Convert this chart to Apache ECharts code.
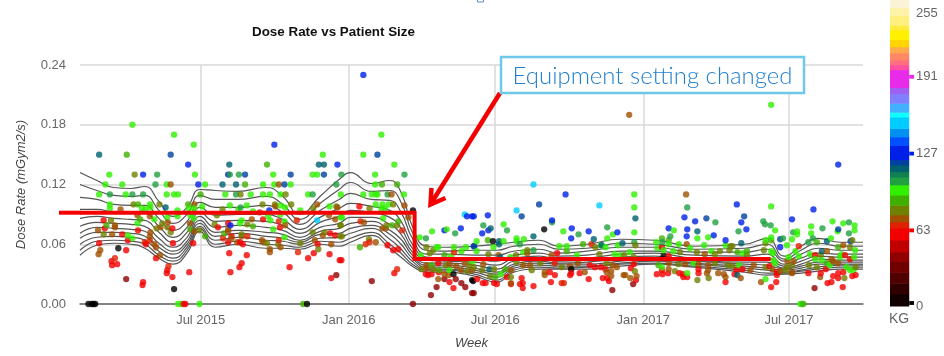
<!DOCTYPE html>
<html><head><meta charset="utf-8">
<style>html,body{margin:0;padding:0;background:#fff}#c{width:944px;height:356px}</style>
<script src="https://cdn.jsdelivr.net/npm/echarts@6/dist/echarts.min.js"></script>
</head><body><div id="c"></div>
<script>
// Scatter points, grouped by patient weight: [week index, dose rate]
const kg5 = [[1.5,0],[2.1,0],[2.4,0],[2.7,0],[6.8,.056],[16.7,.015],[40.3,0],[59.1,.094],[66.3,.03],[69.6,.024],[73.3,.063],[82.4,.075],[87.2,.035],[69.8,.023],[103.6,.048]];
const kg42 = [[8.2,.025],[45.5,.029],[51.8,.023],[59.1,0],[64.7,.025],[66.7,.025],[67.7,.021],[63.3,.017],[68.4,.017],[62.3,.009],[69.6,.011],[69.9,.011],[98.2,.02],[94.5,.014],[130.4,.016]];
const kg60 = [[4.2,.084],[4.4,.076],[7.5,.07],[10.3,.074],[16.4,.076],[8.5,.064],[11.7,.06],[16.5,.061],[20.1,.061],[3.4,.061],[8.2,.054],[13.5,.046],[5.6,.043],[5.7,.039],[6.6,.04],[15.5,.034],[15.4,.031],[19.4,.032],[16.4,.027],[11.2,.022],[11.1,.019],[18.4,0],[18.7,0],
 [26.3,.081],[24.5,.077],[35.5,.077],[44.4,.071],[45.3,.069],[26.9,.068],[26.3,.062],[28.4,.062],[28.9,.06],[42.2,.06],[41.5,.051],[26.5,.051],[44.3,.05],[29.6,.049],[40.5,.046],[46.1,.044],[28.7,.041],[28.3,.037],[37.2,.037],[26.7,.032],[44.6,.026],[32.5,.085],
 [49.6,.098],[54.6,.059],[55.6,.054],[56.5,.055],[46.4,.044],[55.8,.031],[61.4,.03],[61.8,.029],[62.4,.03],[63.7,.032],[63.6,.041],[65.6,.022],[66.3,.016],
 [84.7,.051],[90.5,.039],[91.4,.037],[92.5,.037],[83.4,.032],[87.2,.031],[88.7,.031],[84.3,.029],[75.8,.027],[78.4,.026],[87,.029],[70.5,.025],[71.5,.021],[72,.021],[73.5,.021],[74,.02],[76.5,.02],[78.1,.02],[78.6,.021],[78.6,.016],[80.5,.018],[83.6,.022],[90.3,.025],[92.8,.026],
 [103.3,.057],[104.5,.048],[98.3,.04],[93.3,.035],[97.8,.036],[103.3,.034],[109.8,.035],[102.4,.03],[103.4,.03],[104.4,.031],[106.4,.031],[107,.03],[109.8,.031],[116.2,.03],[93.6,.026],[98.7,.024],[107.1,.027],[107.8,.027],[93.9,.023],[114.6,.022],
 [130.5,.049],[135.8,.049],[136.7,.045],[122.4,.038],[116.6,.034],[117.6,.035],[123.7,.032],[129.3,.031],[131.5,.031],[132.4,.035],[134.6,.031],[135.5,.032],[123.7,.029],[133.7,.028],[134.6,.026],[137.1,.028],[137.7,.029],[123.6,.022],[122.7,.017],[132.7,.021],[133.4,.022],[135.4,.017]];
const kg67 = [[31.9,.092],[35.3,.083],[38.5,.084],[12.4,.064],[11.5,.062],[6.2,.046],[15.7,.038],[25.4,.066],[29.7,.068],[35.3,.064],[38.7,.052],[49.8,.083],[57.2,.074],[51.4,.062],[50.7,.06],[56.3,.035],[66.4,.052],[90.8,.06],[84.3,.041],[85.5,.021],[85.9,.021],[127.6,.058]];
const kg73 = [[16.1,.12],[20.3,.10],[7.2,.095],[10.2,.089],[12.4,.088],[15.6,.082],[19.5,.081],[6.2,.079],[6.2,.077],[14.3,.077],[20.3,.073],[3.2,.074],[5.7,.07],[12.5,.072],[12.4,.068],[13.2,.06],[13.5,.057],[3.6,.054],[3.3,.05],[14.2,.049],
 [35.3,.12],[34.7,.098],[42.1,.1],[45.7,.097],[30.5,.085],[44.2,.089],[45.3,.085],[36.4,.079],[26.3,.075],[26.3,.073],[43.1,.069],[26.9,.066],[28.7,.068],[32.3,.064],[41.7,.064],[27.9,.062],[32.6,.062],[44.6,.06],[35.6,.057],[33.7,.055],[33.7,.052],
 [55.3,.11],[57.6,.099],[58.3,.087],[50.4,.082],[53.7,.076],[54.3,.076],[52.5,.062],[61.6,.036],[61.5,.039],[65.6,.04],[66.8,.038],[68.3,.041],[67.7,.034],[65.5,.029],[64.7,.03],[63.6,.025],
 [74.3,.049],[79.4,.051],[83.7,.049],[71.6,.04],[78.7,.039],[79.9,.039],[87,.038],[88.4,.041],[69.6,.034],[76.5,.034],[82.5,.032],[89.6,.032],[82.5,.029],[76.5,.021],
 [97.5,.19],[107.6,.11],[107.7,.06],[110.9,.05],[94.6,.039],[95.3,.037],[104.5,.041],[107.4,.04],[109.8,.04],[111.5,.039],[104.5,.035],[111.5,.034],[93.5,.032],[94.3,.033],[94.3,.028],[111.3,.031],[113.3,.031],[114.3,.03],[114.6,.027],[96.5,.029],[96.8,.029],[98.8,.028],[97.7,.026],
 [135.5,.059],[132.6,.053],[133.4,.045],[125.6,.043],[126.7,.043],[133.7,.043],[134.6,.041],[119.6,.039],[119,.034],[122.9,.035],[124.3,.033],[126.4,.032],[117.3,.026],[126.4,.031],[131.4,.027],[120.9,.022]];
const kg80 = [[9.7,.13],[9.5,.10],[14.1,.10],[5.5,.084],[13.6,.076],[14.6,.081],[15.5,.077],[21.2,.074],[16.1,.072],[4.2,.07],
 [28.5,.11],[36.5,.11],[32.4,.1],[34.6,.1],[37.5,.1],[41.4,.096],[45.5,.098],[25.3,.095],[24.3,.089],[23.9,.08],[29.7,.08],[46.2,.079],[28.7,.07],[41.3,.072],[43.4,.072],[46.2,.068],[33.2,.061],[35.2,.06],[39.1,.061],[42.3,.055],
 [51.4,.096],[55.6,.1],[54.4,.079],[56.3,.079],[46.3,.079],[46.5,.068],[51.3,.065],[61.5,.057],[62.7,.054],[62.1,.051],[65,.039],[60.6,.035],[62.7,.035],[68.8,.033],[69.1,.039],
 [79.4,.054],[72.5,.05],[77.4,.049],[91.5,.057],[92.2,.05],[77.5,.042],[81.7,.041],[85.5,.037],[69.9,.037],[71.4,.034],[73.5,.035],[80.2,.034],[72.8,.028],[76.5,.027],
 [98.6,.059],[115.5,.058],[106.5,.052],[109.5,.052],[113.6,.053],[115.3,.054],[96.6,.049],[98.3,.047],[112.7,.05],[93.5,.041],[106.2,.04],[112.7,.041],[115,.039],[105.6,.033],[98.5,.033],[109.6,.024],[111.6,.026],
 [121.7,.061],[137.1,.064],[136.7,.057],[115.8,.058],[118.4,.049],[121.4,.054],[131.5,.049],[115.8,.038],[121.7,.037],[125.5,.037],[126.4,.039],[129.4,.039],[130.8,.037],[137.7,.037],[125.2,.034],[135.7,.026]];
const kg88 = [[8.3,.15],[21.4,.11],[10.3,.10],[19.2,.10],[4.7,.079],[10.7,.085],[19.6,.075],[22.2,.068],
 [33.2,.14],[29.3,.12],[25.6,.071],[30.7,.078],[39.6,0],
 [53.6,.12],[56.3,.12],[55.4,.079],[56.5,.083],[49.7,.057],[62.4,.039],[63.7,.034],[64.7,.049],
 [72.4,.064],[89.3,.06],[86.4,.053],[75.5,.035],[73.7,.027],
 [103.3,.066],[104.5,.064],[102.7,.039],
 [116.7,.052],[118.4,.053],[122.7,.064],[130.8,.062],[134.6,.057],[132.6,.041],[128.4,0]];
const kg96 = [[9.3,.18],[16.7,.17],[20.2,.16],[5.2,.13],[20.4,.13],[4.5,.12],[7.5,.12],[15.4,.12],[22.2,.12],[3.4,.11],[8.1,.11],[15.4,.11],[16.7,.11],[17.4,.11],[5.3,.10],[12.4,.10],[21.7,.098],[5.3,.096],[11,.096],[11.6,.095],[12.5,.097],[17.3,.094],[19.3,.096],[20.3,.096],[13.2,.085],[15.5,.087],[17.3,.088],[19.6,.089],[20.2,.086],[10.2,.081],[8.5,.069],[9.3,.066],[17.4,0],[18,0],[21.2,0],
 [43.1,.15],[34.3,.13],[41.3,.13],[42.1,.13],[32.5,.12],[34.5,.12],[37.4,.12],[25.8,.11],[30.3,.11],[32.5,.11],[33.7,.11],[35.6,.11],[40.5,.11],[46.3,.11],[26.6,.099],[29.6,.099],[35.6,.099],[36.4,.097],[44.3,.098],[28.1,.095],[30.7,.093],[39.1,.094],[33.4,.088],[35.6,.09],[46.3,.087],[33.8,.084],[36.3,.083],[28.7,.084],[28.4,.081],[34.3,.075],[36.3,.067],
 [53.5,.17],[50.3,.15],[55.8,.14],[52.4,.13],[52.4,.12],[50.3,.11],[51.8,.11],[52.5,.11],[52.8,.11],[57.5,.11],[52.5,.1],[53.7,.1],[54.8,.1],[54.1,.096],[53.5,.096],[46.5,.087],[53.8,.086],
 [60.3,.067],[62.5,.073],[65.1,.075],[63.3,.057],[63.6,.057],[66.4,.057],[68.5,.057],[67.7,.053],[60.5,.049],[65.9,.048],[69.7,.043],[65.6,.034],
 [75.2,.08],[85.8,.073],[70.4,.063],[75.2,.063],[77.5,.066],[78.8,.065],[77.5,.063],[73.4,.057],[70.4,.053],[78.7,.052],[85.1,.058],[86.4,.058],[92.5,.059],[88.2,.049],[76.4,.047],[74.7,.03],
 [98.4,.11],[98.4,.097],[105.4,.074],[98.4,.072],[94.6,.07],[93.6,.066],[111.5,.067],[109.6,.066],[102.3,.062],[95.5,.059],[93.3,.057],[104.5,.06],[106.3,.06],[102.5,.056],[103.6,.054],[105.3,.053],[108.3,.056],[110.8,.059],[114.6,.059],[112.1,.053],[94.9,.05],[97.6,.052],[95.9,.049],[103.3,.037],[108.9,.041],[107.8,.031],
 [122.7,.2],[122.7,.098],[133.6,.083],[135.5,.081],[137.5,.079],[129.8,.078],[123.4,.074],[127.3,.073],[127.3,.07],[129.8,.071],[134.5,.073],[137.5,.074],[122.7,.067],[126.4,.065],[121.7,.064],[125.5,.059],[133.3,.066],[137.6,.054],[117.6,.051],[122.7,.053],[127,.053],[129.6,.05],[135.2,.05],[123,.051],[125.8,.047],[127.6,.048],[134.9,.047],[137.4,.047],[123.1,.044],[123.4,.041],[130.5,.045],[131.7,.044],[117,.039],[133.1,.039],[136.1,.037],[137.3,.034],[136.7,.034],[121.7,.025],[127.9,0],[128.1,0]];
const kg104 = [[13.4,.12],[5.3,.11],[9.3,.11],[11.2,.11],[13.7,.13],
 [26.6,.13],[28.2,.13],[46.4,.13],[45.5,.12],[27.7,.11],[41.3,.11],[28.5,.097],
 [57.6,.13],[54.6,.11],[61.4,.066],[66.6,.071],
 [71.6,.079],[75.8,.074],[88.5,.07],[83.8,.082],[78.1,.06],[80.5,.054],
 [107.8,.097],[112.8,.082],[93.6,.077],[104.8,.068],[98.4,.062],[103.4,.062],
 [116.9,.073],[121.3,.083],[121.6,.08],[122.6,.079],[136.5,.082],[131.8,.076],[126.6,.072],[136.5,.071],[124.8,.066],[130.1,.066],[129.3,.062]];
const kg114 = [[3.4,.15],[15.2,.097],[26.5,.14],[43.3,.14],[42.4,.14],[25.3,.12],[27.7,.12],[72.9,.076],[80.5,.068],[74.4,.063],[74.4,.06],[91.2,.065],[74.6,.047],[72.7,.035],[98.6,.086],[109.6,.073],[96.3,.061],[92.6,.059],[117.4,.061],[132.6,.063],[131.7,.053],[116.7,.029]];
const kg120 = [[16.1,.15],[29.3,.13],[37.4,.13],[43.3,.13],[36.3,.12],[52.8,.15],[70,.058],[81.5,.10],[78.4,.088],[69.9,.058],[111.2,.086],[117.9,.088],[134.6,.075],[124.3,.065],[136.8,.063]];
const kg128 = [[19.2,.14],[11.2,.13],[21,.12],[34.5,.16],[45.7,.14],[26.3,.13],[26.7,.079],[33.6,.094],[50.3,.23],[64.7,.074],[67.6,.076],[68.7,.088],[69.6,.088],
 [86.2,.11],[69.9,.088],[72.4,.089],[83.8,.084],[72.5,.074],[71.4,.071],[90.3,.073],[87.3,.076],[87.2,.066],
 [107.3,.087],[109.2,.083],[104.5,.076],[107.8,.075],[95.4,.072],[112.5,.069],[107.7,.068],[114.6,.064],
 [116.6,.10],[130.2,.095],[126.4,.085],[117.4,.082],[118.3,.075],[124.3,.057],[134.6,.14]];
const kg152 = [[42.1,.084],[68.3,.09],[80.5,.12],[92.2,.099],[77.5,.094]];

// Smoothed percentile curves, dose rate x 1000 at each knot week
const curveWeeks = [0,3,6,9,11.5,14,16.5,19,21.3,24,28,33,36,39,42.6,46,48,51.7,55,57,59,61.5,65,70,74,77,81.5,85,90,96,102,109,118,122,125,128,131,135,139];
const curve0 = [132,124,117,116,118,103,88,97,115,114,113,117,108,90,108,125,132,121,124,112,78,58,57,58,60,62,64,58,60,65,64,58,60,66,48,58,66,62,62];
const curve1 = [120,114,109,108,109,94,81,90,109,105,105,108,100,85,101,115,122,113,114,102,72,54,53,54,54,58,60,55,56,61,60,55,56,60,45,54,61,58,58];
const curve2 = [107,105,100,99,99,86,74,83,102,97,97,99,92,80,94,105,111,105,104,92,66,50,50,49,49,53,55,51,53,57,57,52,52,55,43,50,56,54,54];
const curve3 = [95,95,92,91,91,78,67,77,97,89,90,90,85,75,87,96,101,98,94,83,60,47,46,45,43,49,51,48,49,53,53,49,48,50,40,46,51,50,50];
const curve4 = [86,88,86,85,84,72,62,72,92,83,84,83,79,71,82,88,94,92,87,76,56,44,43,42,39,46,48,45,46,50,51,46,45,46,38,43,48,47,47];
const curve5 = [78,82,81,80,78,66,57,67,88,77,79,77,74,67,77,81,87,87,80,70,52,41,41,39,35,43,45,43,44,47,48,44,42,42,36,40,45,44,44];
const curve6 = [71,77,76,75,73,61,53,63,84,72,74,72,70,64,73,76,81,83,74,65,49,39,39,36,32,40,43,41,42,45,46,43,40,39,35,38,42,42,42];
const curve7 = [66,72,72,71,68,57,50,60,81,68,71,68,66,62,70,71,76,79,70,60,46,37,37,34,30,38,41,40,40,43,45,41,38,36,34,36,40,40,40];
const curve8 = [60,67,68,67,64,53,46,57,78,64,67,64,63,60,66,67,71,76,65,55,43,35,35,32,27,36,39,38,38,41,43,40,36,34,32,34,37,39,39];
const curve9 = [54,63,64,63,60,49,43,54,76,60,63,60,59,57,63,62,66,72,60,51,40,34,34,30,24,34,37,36,37,40,41,38,34,31,31,33,35,37,37];
const curve10 = [49,59,61,60,56,46,40,51,73,57,60,56,56,55,60,58,62,69,56,47,38,32,32,28,22,32,35,35,35,38,40,37,32,29,30,31,33,35,35];

// Red step annotation
const stepWeeks = [0,59.4,59.4,122.6];
const stepRates = [.0917,.0917,.0452,.0452];

// Axis ticks
const xTickDates = ['2015-07-01','2016-01-01','2016-07-01','2017-01-01','2017-07-01'];
const xTickLabels = ['Jul 2015','Jan 2016','Jul 2016','Jan 2017','Jul 2017'];

// Colour scale: upper limit of each band (kg) and its colour
const bandTops = [10,19,28,37,45,55,65,70,76,84,92.5,101,107.5,112,117.5,122,134,141,148,157.5,161.5,169,177,182,197,201,205,211,216,222,230,234,242,248.5,255];
const bandColors = ['#100000','#300000','#500000','#700000','#900000','#c00000','#f20000','#e02000','#a05000','#708000','#40b000','#30f000','#20a040','#108050','#006070','#0040a0','#0020e8','#0050ff','#0090f0','#00ccff','#10ffff','#40b0ff','#8080ff','#a060f0','#e82be8','#ff4fa0','#ff6f7f','#ff8866','#ffaa4d','#ffd400','#fff000','#ffeb3b','#fff080','#fff3a8','#fbf3d8'];
const scaleLabels = [0,63,127,191,255];
const scaleTicks = [2.5,63,127,191];

const DAY = 86400000, START = Date.UTC(2015,1,1), END = Date.UTC(2017,9,1);
const wk = w => START + w*7*DAY;
const kgColor = kg => { if (kg < 8) return '#000000'; for (let i=0;i<bandTops.length;i++) if (kg<=bandTops[i]) return bandColors[i]; return '#fff'; };

const groups = [[5,kg5],[42,kg42],[60,kg60],[67,kg67],[73,kg73],[80,kg80],[88,kg88],[96,kg96],[104,kg104],[114,kg114],[120,kg120],[128,kg128],[152,kg152]];
const points = [];
groups.forEach(([kg,list]) => list.forEach(p => points.push([wk(p[0]),p[1],kg])));
points.sort((a,b)=>a[0]-b[0]);

const tickMs = xTickDates.map(d=>Date.parse(d+'T00:00:00Z'));
const curves = [curve0,curve1,curve2,curve3,curve4,curve5,curve6,curve7,curve8,curve9,curve10];
const FONT = '"Liberation Sans", Arial, sans-serif';

const chart = echarts.init(document.getElementById('c'),null,{renderer:'canvas'});
chart.setOption({
  animation:false, backgroundColor:'#fff',
  title:{text:'Dose Rate vs Patient Size',left:247,top:21,textStyle:{fontFamily:FONT,fontSize:13.4,fontWeight:'bold',color:'#111'}},
  grid:[{left:80,top:65,width:783,height:239,outerBoundsMode:'none'},{left:890,top:0,width:25,height:306,outerBoundsMode:'none'}],
  xAxis:[
   {type:'value',gridIndex:0,min:START,max:END,name:'Week',nameLocation:'middle',nameGap:33,
    nameTextStyle:{fontFamily:FONT,fontSize:13,fontStyle:'italic',color:'#444'},
    axisLine:{show:true,onZero:false,lineStyle:{color:'#666',width:1.5}},
    axisTick:{show:false,customValues:tickMs},
    axisLabel:{customValues:tickMs,margin:10,fontFamily:FONT,fontSize:13,color:'#666',hideOverlap:false,
      formatter:v=>xTickLabels[tickMs.indexOf(+v)]||''},
    splitLine:{show:true,lineStyle:{color:'#d8d8d8',width:1.5}}},
   {type:'value',gridIndex:1,min:0,max:1.3,name:'KG',nameLocation:'middle',nameGap:6,
    nameTextStyle:{fontFamily:FONT,fontSize:14,color:'#666',padding:[0,7,0,0]},
    axisLine:{show:false},axisTick:{show:false},axisLabel:{show:false},splitLine:{show:false}}
  ],
  yAxis:[
   {type:'value',gridIndex:0,min:0,max:.24,interval:.06,name:'Dose Rate (mGym2/s)',nameLocation:'middle',nameGap:52,
    nameTextStyle:{fontFamily:FONT,fontSize:13,fontStyle:'italic',color:'#444'},
    axisLine:{show:false},axisTick:{show:false},
    axisLabel:{margin:14,fontFamily:FONT,fontSize:13,color:'#666',formatter:v=>v.toFixed(2)},
    splitLine:{lineStyle:{color:'#d8d8d8',width:1.5}}},
   {type:'value',gridIndex:1,min:0,max:255,position:'right',
    axisLine:{show:false},axisTick:{show:false,customValues:scaleLabels},splitLine:{show:false},
    axisLabel:{customValues:scaleLabels,margin:1,fontFamily:FONT,fontSize:13,color:'#666',lineHeight:26,verticalAlignMaxLabel:'top',hideOverlap:false}}
  ],
  graphic:[
   {type:'polyline',z:100,shape:{points:[[59,212.7],[81,212.7]]},style:{stroke:'#f40000',lineWidth:4,fill:null}},
   {type:'polyline',z:100,shape:{points:[[500,93],[432,202]]},style:{stroke:'#f40000',lineWidth:4.5,fill:null}},
   {type:'polyline',z:100,shape:{points:[[431.5,188],[430.5,204.5],[445.5,198]]},style:{stroke:'#f40000',lineWidth:4.5,fill:null}},
   {type:'rect',z:101,shape:{x:501,y:57,width:303,height:36},style:{fill:'#fff',stroke:'#6fc8ea',lineWidth:2.5}},
   {type:'text',z:102,x:652.5,y:76,style:{text:'Equipment setting changed',fill:'#1f7fd0',font:'300 23.9px Lato, sans-serif',textAlign:'center',textVerticalAlign:'middle'}},
   {type:'rect',z:100,shape:{x:477.5,y:-2,width:6,height:4},style:{fill:'#fff',stroke:'#5b8fd0',lineWidth:1}}
  ],
  series:[
   ...curves.map(c=>({type:'line',xAxisIndex:0,yAxisIndex:0,smooth:.5,showSymbol:false,silent:true,z:3,
      lineStyle:{color:'#555',width:1.2},data:curveWeeks.map((w,i)=>[wk(w),c[i]/1000])})),
   {type:'scatter',xAxisIndex:0,yAxisIndex:0,symbolSize:6.3,z:4,clip:false,
      itemStyle:{color:p=>kgColor(p.value[2])},data:points},
   {type:'line',xAxisIndex:0,yAxisIndex:0,clip:false,showSymbol:false,silent:true,z:6,
      lineStyle:{color:'#f40000',width:4,join:'miter'},data:stepWeeks.map((w,i)=>[wk(w),stepRates[i]])},
   {type:'custom',xAxisIndex:1,yAxisIndex:1,silent:true,z:3,clip:false,
      renderItem:(p,api)=>{const a=api.coord([0,api.value(0)]),b=api.coord([1,api.value(1)]);
        return {type:'rect',shape:{x:a[0],y:b[1],width:b[0]-a[0],height:a[1]-b[1]+.5},style:{fill:bandColors[p.dataIndex]}}},
      data:bandTops.map((t,i)=>[i?bandTops[i-1]:0,t])},
   {type:'custom',xAxisIndex:1,yAxisIndex:1,silent:true,z:3,clip:false,
      renderItem:(p,api)=>{const k=api.value(0),a=api.coord([1,k-1.6]),b=api.coord([1.25,k+1.6]);
        return {type:'rect',shape:{x:a[0],y:b[1],width:b[0]-a[0],height:a[1]-b[1]},style:{fill:kgColor(k===63?60:k===127?128:k)}}},
      data:scaleTicks.map(k=>[k])}
  ]
});
</script></body></html>
